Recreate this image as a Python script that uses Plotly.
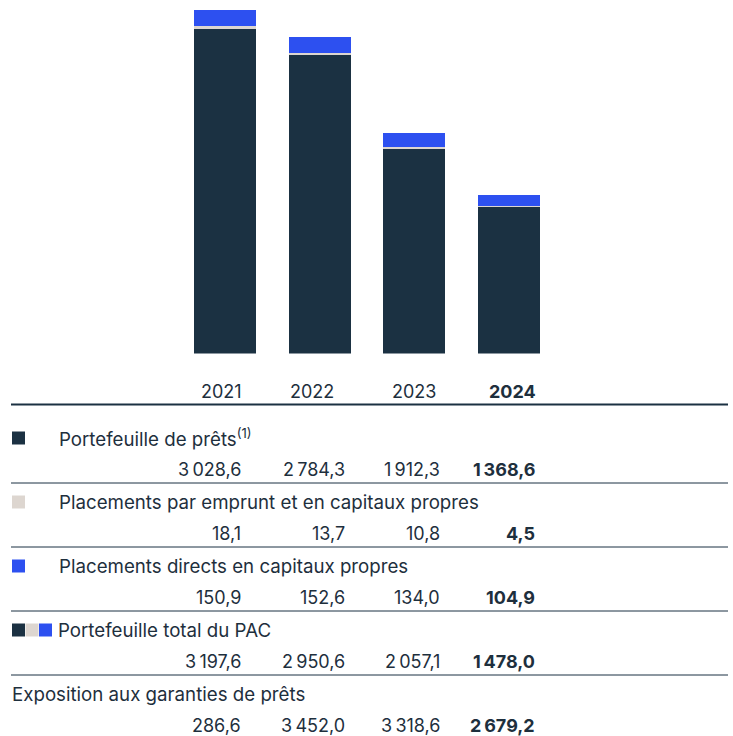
import plotly.graph_objects as go

# Portfolio data (millions), fiscal years 2021-2024
years = ["2021", "2022", "2023", "2024"]
loan_portfolio = [3028.6, 2784.3, 1912.3, 1368.6]
debt_equity_investments = [18.1, 13.7, 10.8, 4.5]
direct_equity_investments = [150.9, 152.6, 134.0, 104.9]
loan_guarantee_exposure = [286.6, 3452.0, 3318.6, 2679.2]
total_portfolio = [round(a + b + c, 1) for a, b, c in
                   zip(loan_portfolio, debt_equity_investments, direct_equity_investments)]

NAVY = "#1b3142"
BEIGE = "#ddd6d0"
BLUE = "#2d50f0"
TEXT = "#1e2f3d"
FONT = "Inter"
LABEL_SIZE = 18.7
NUM_SIZE = 18

W, H = 733, 736


def X(px):
    return px / W


def Y(py):
    return 1 - py / H


def fmt(v):
    s = f"{v:,.1f}"
    return s.replace(",", "\u2009").replace(".", ",")


def font(size):
    return dict(family=FONT, size=size, color=TEXT)


fig = go.Figure()
for vals, col in [(loan_portfolio, NAVY), (debt_equity_investments, BEIGE),
                  (direct_equity_investments, BLUE)]:
    fig.add_trace(go.Bar(x=years, y=vals, marker=dict(color=col, line=dict(width=0)),
                         width=0.655, hoverinfo="skip", showlegend=False))

annotations = []
shapes = []

# Year headers
year_cx = [221, 312, 414, 512]
for yr, cx in zip(years, year_cx):
    label = f"<b>{yr}</b>" if yr == years[-1] else yr
    annotations.append(dict(x=X(cx), y=Y(391), text=label, xanchor="center", yanchor="middle",
                            font=font(NUM_SIZE)))

# Header rule
shapes.append(dict(type="line", x0=X(11), x1=X(728), y0=Y(404.5), y1=Y(404.5),
                   line=dict(color=NAVY, width=2)))

value_right = [243, 347, 442, 537]
rows = [
    ("Portefeuille de prêts<sup>(1)</sup>", loan_portfolio, [NAVY]),
    ("Placements par emprunt et en capitaux propres", debt_equity_investments, [BEIGE]),
    ("Placements directs en capitaux propres", direct_equity_investments, [BLUE]),
    ("Portefeuille total du PAC", total_portfolio, [NAVY, BEIGE, BLUE]),
    ("Exposition aux garanties de prêts", loan_guarantee_exposure, []),
]

row_top = 438
for i, (label, vals, swatches) in enumerate(rows):
    ly = row_top + 64 * i
    vy = ly + 31.5
    if swatches:
        lx = 57 if len(swatches) == 1 else 56
        for k, c in enumerate(swatches):
            x0 = 12 + 13.5 * k
            shapes.append(dict(type="rect", x0=X(x0), x1=X(x0 + 13), y0=Y(ly - 6.5), y1=Y(ly + 6.5),
                               fillcolor=c, line=dict(width=0)))
    else:
        lx = 10
    annotations.append(dict(x=X(lx), y=Y(ly), text=label, xanchor="left", yanchor="middle",
                            font=font(LABEL_SIZE)))
    for j, (v, rx) in enumerate(zip(vals, value_right)):
        t = fmt(v)
        if j == len(vals) - 1:
            t = f"<b>{t}</b>"
        annotations.append(dict(x=X(rx), y=Y(vy), text=t, xanchor="right", yanchor="middle",
                                font=font(NUM_SIZE)))
    if i < len(rows) - 1:
        shapes.append(dict(type="line", x0=X(11), x1=X(728), y0=Y(ly + 45), y1=Y(ly + 45),
                           line=dict(color=NAVY, width=1)))

for a in annotations:
    a.update(xref="paper", yref="paper", showarrow=False)
for s in shapes:
    s.update(xref="paper", yref="paper", layer="above")

px_per_cat = (509 - 225) / 3
fig.update_layout(
    width=W, height=H,
    margin=dict(l=0, r=0, t=0, b=0),
    paper_bgcolor="white", plot_bgcolor="white",
    barmode="stack", bargap=0,
    xaxis=dict(domain=[0, 1], range=[-225 / px_per_cat, (W - 225) / px_per_cat],
               showticklabels=False, showgrid=False, zeroline=False, showline=False,
               fixedrange=True),
    yaxis=dict(domain=[Y(353.5), 1], range=[0, 3197.6 * 353.5 / 343.5],
               showticklabels=False, showgrid=False, zeroline=False, showline=False,
               fixedrange=True),
    annotations=annotations,
    shapes=shapes,
)

fig.write_html("out.html")
